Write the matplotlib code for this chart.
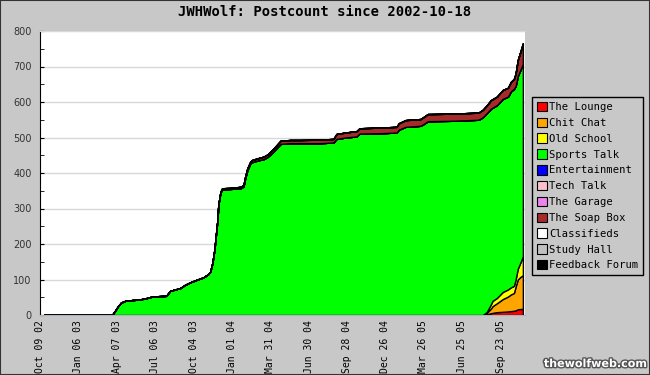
import matplotlib
matplotlib.use("Agg")
import matplotlib.pyplot as plt
import matplotlib.patheffects as pe
from matplotlib.patches import Patch, Rectangle
from matplotlib.ticker import MultipleLocator
import numpy as np
import pandas as pd

dates = [
    "2002-10-18", "2003-03-27", "2003-04-03", "2003-04-10", "2003-04-17", "2003-04-27",
    "2003-05-13", "2003-06-01", "2003-06-17", "2003-06-29", "2003-07-13", "2003-08-01",
    "2003-08-10", "2003-08-22", "2003-09-03", "2003-09-14", "2003-09-26", "2003-10-13",
    "2003-10-27", "2003-11-07", "2003-11-12", "2003-11-17", "2003-11-22", "2003-11-24",
    "2003-11-29", "2003-12-01", "2003-12-06", "2003-12-10", "2003-12-29", "2004-01-22",
    "2004-01-29", "2004-02-02", "2004-02-07", "2004-02-14", "2004-02-19", "2004-03-04",
    "2004-03-16", "2004-03-25", "2004-04-01", "2004-04-13", "2004-04-25", "2004-05-18",
    "2004-06-10", "2004-07-27", "2004-08-27", "2004-09-03", "2004-09-24", "2004-10-20",
    "2004-10-27", "2004-12-15", "2005-01-22", "2005-01-27", "2005-02-12", "2005-03-19",
    "2005-03-29", "2005-04-05", "2005-05-29", "2005-08-02", "2005-08-12", "2005-08-21",
    "2005-08-31", "2005-09-04", "2005-09-14", "2005-09-28", "2005-10-10", "2005-10-17",
    "2005-10-24", "2005-10-28", "2005-11-02", "2005-11-09", "2005-11-14",
]

the_lounge = [0] * 59 + [2, 5, 6, 8, 9, 10, 11, 12, 13, 16, 17, 17]
chit_chat = [0] * 59 + [4, 13, 19, 25, 36, 42, 47, 50, 67, 84, 91, 95]
old_school = [0] * 59 + [2, 12, 15, 15, 20, 20, 20, 20, 20, 30, 42, 53]
sports_talk = [
    0, 0, 12, 25, 35, 40, 42, 44, 48, 52, 53, 54,
    68, 72, 76, 85, 92, 100, 106, 115, 122, 146, 185, 210,
    268, 310, 345, 354, 355, 357, 362, 385, 408, 427, 431, 436,
    439, 445, 452, 467, 482, 484, 484, 484, 486, 496, 500, 503,
    511, 512, 514, 522, 530, 533, 540, 546, 547, 550, 557, 560,
    551, 544, 543, 544, 543, 552, 555, 545, 543, 543, 542,
]
soap_box = [0] * 26 + [
    2, 3, 3, 4, 4, 5, 5, 5, 6, 6, 7, 7, 8, 8, 9, 9, 9, 10, 10, 14, 14, 15,
    15, 16, 16, 18, 19, 19, 20, 20, 20, 20, 21, 22, 24, 24, 24, 25, 25, 27,
    28, 35, 45, 52, 58,
]
zeros = [0] * len(dates)

names = ["The Lounge", "Chit Chat", "Old School", "Sports Talk", "Entertainment",
         "Tech Talk", "The Garage", "The Soap Box", "Classifieds", "Study Hall",
         "Feedback Forum"]
colors = ["#ff0000", "#ffa500", "#ffff00", "#00ff00", "#0000ff", "#ffc0cb",
          "#ee82ee", "#a52a2a", "#ffffff", "#c0c0c0", "#000000"]
series = [the_lounge, chit_chat, old_school, sports_talk, zeros, zeros, zeros,
          soap_box, zeros, zeros, zeros]

tick_dates = ["2002-10-09", "2003-01-06", "2003-04-07", "2003-07-06", "2003-10-04",
              "2004-01-01", "2004-03-31", "2004-06-30", "2004-09-28", "2004-12-26",
              "2005-03-26", "2005-06-25", "2005-09-23"]

x = pd.to_datetime(dates)
ticks = pd.to_datetime(tick_dates)

bg = "#c8c8c8"
fig = plt.figure(figsize=(6.5, 3.75), dpi=100, facecolor=bg)
ax = fig.add_axes([40 / 650, 1 - 315 / 375, 485 / 650, 284 / 375])
ax.set_facecolor("white")

ax.stackplot(x, *[np.array(s) for s in series], colors=colors,
             edgecolor="black", linewidth=1.0)

ax.set_ylim(0, 800)
ax.set_xlim(pd.Timestamp("2002-10-09"), pd.Timestamp("2005-11-19"))
ax.yaxis.set_major_locator(MultipleLocator(100))
ax.yaxis.set_minor_locator(MultipleLocator(50))
ax.grid(axis="y", color="#d8d8d8", linewidth=1.0)
ax.set_axisbelow(True)
ax.tick_params(axis="y", which="both", direction="in", length=3, labelsize=7,
               labelcolor="#333333", pad=6)
for lab in ax.get_yticklabels():
    lab.set_family("DejaVu Sans")

ax.set_xticks(ticks)
ax.set_xticklabels([d.strftime("%b %d %y") for d in ticks], rotation=90,
                   family="DejaVu Sans Mono", fontsize=7)
ax.tick_params(axis="x", length=0, pad=4)

ax.spines["right"].set_visible(False)
ax.spines["top"].set_color("#d8d8d8")
ax.spines["left"].set_color("black")
ax.spines["bottom"].set_color("#a8b4c0")

fig.text(0.5, 1 - 12 / 375, "JWHWolf: Postcount since 2002-10-18", ha="center",
         va="center", family="DejaVu Sans Mono", fontsize=10, fontweight="bold")

handles = [Patch(facecolor=c, edgecolor="black", linewidth=0.8) for c in colors]
leg = fig.legend(handles, names, loc="upper left",
                 bbox_to_anchor=(532 / 650, 1 - 97 / 375),
                 prop={"family": "DejaVu Sans Mono", "size": 7.6},
                 frameon=True, fancybox=False, edgecolor="black",
                 facecolor=bg, framealpha=1, handlelength=1.0,
                 handleheight=1.0, handletextpad=0.2, labelspacing=0.52,
                 borderpad=0.45, borderaxespad=0)
leg.get_frame().set_linewidth(1.0)

fig.text(0.995, 1 - 364 / 375, "thewolfweb.com", ha="right", va="center",
         color="white", fontsize=8, fontweight="bold", family="DejaVu Sans",
         path_effects=[pe.withStroke(linewidth=2, foreground="#555555")])

fig.patches.append(Rectangle((0, 0), 1, 1, transform=fig.transFigure,
                             fill=False, edgecolor="#333333", linewidth=1.5))

fig.savefig("out.png", dpi=100, facecolor=bg)
